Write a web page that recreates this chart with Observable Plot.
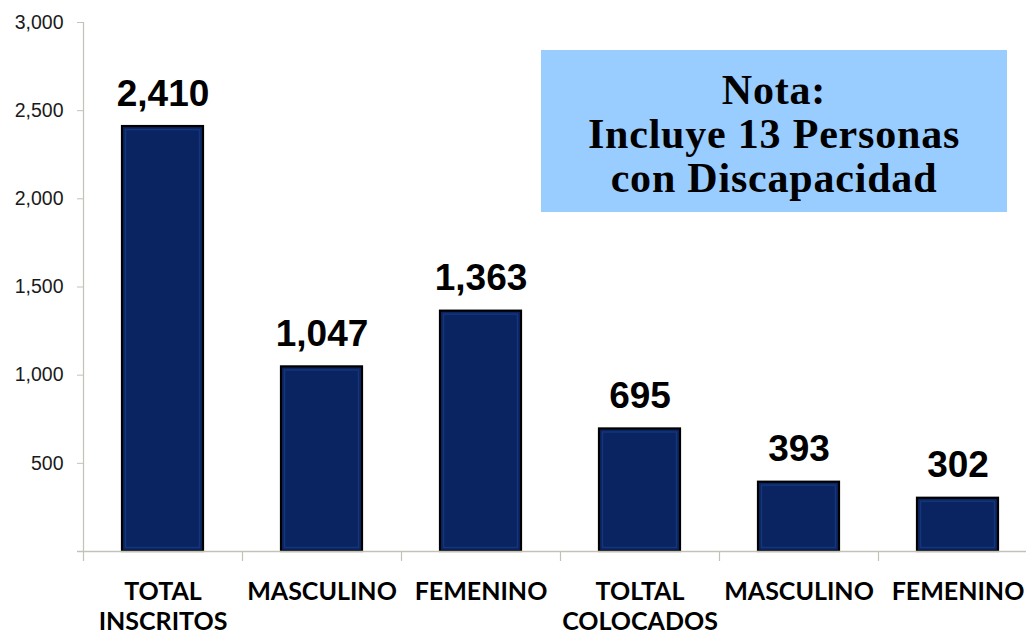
<!DOCTYPE html>
<html>
<head>
<meta charset="utf-8">
<script src="https://cdn.jsdelivr.net/npm/d3@7"></script>
<script src="https://cdn.jsdelivr.net/npm/@observablehq/plot@0.6"></script>
<style>
  html, body { margin: 0; padding: 0; background: #fff; }
  #wrap { position: relative; width: 1026px; height: 636px; overflow: hidden; }
  #note {
    position: absolute; left: 541px; top: 50px; width: 466px; height: 162px;
    background: #99ccff; box-sizing: border-box; padding-top: 18px;
    text-align: center; font-family: "Liberation Serif", serif; font-weight: bold;
    font-size: 42px; line-height: 44px; letter-spacing: 0.8px; color: #000;
  }
</style>
</head>
<body>
<div id="wrap"></div>
<script>
const categories = ["TOTAL\nINSCRITOS", "MASCULINO ", "FEMENINO ", "TOLTAL\nCOLOCADOS", "MASCULINO", "FEMENINO"];
const values = [2410, 1047, 1363, 695, 393, 302];
const yTicks = [0, 500, 1000, 1500, 2000, 2500, 3000];
const noteLines = ["Nota:", "Incluye 13 Personas", "con Discapacidad"];

const data = categories.map((c, i) => ({cat: c, value: values[i]}));

const W = 1026, H = 636;
const xRange = [83, 1037];
const step = (xRange[1] - xRange[0]) / categories.length;
const axisGray = "#c4c1b8";

const chart = Plot.plot({
  width: W,
  height: H,
  marginTop: 22,
  marginBottom: 85,
  marginLeft: 83,
  marginRight: 0,
  style: {background: "transparent", overflow: "visible"},
  x: {domain: categories, range: xRange, paddingInner: 0.49, paddingOuter: 0.245, label: null, axis: null},
  y: {domain: [0, 3000], label: null, axis: null},
  marks: [
    // y axis line (extends below baseline)
    Plot.ruleX([categories[0]], {x: d => d, dx: -step / 2, y1: 3000, y2: 0, insetBottom: -10, stroke: axisGray, strokeWidth: 1.2}),
    // category boundary ticks
    Plot.ruleX(categories.slice(1), {x: d => d, dx: -step / 2, y1: 0, y2: 0, insetBottom: -10, stroke: axisGray, strokeWidth: 1.2}),
    // y ticks (no labels here)
    Plot.axisY({ticks: yTicks, tickSize: 6, tickFormat: () => "", stroke: axisGray, label: null}),
    // y tick labels
    Plot.text(yTicks.filter(d => d !== 0), {
      y: d => d, text: d => d3.format(",")(d), frameAnchor: "left", textAnchor: "end", dx: -20,
      fontSize: 19.5, fontFamily: "Liberation Sans, Arial, sans-serif", fill: "#1a1a1a"
    }),
    // bars
    Plot.barY(data, {x: "cat", y: "value", fill: "#0a2462", stroke: "#000", strokeWidth: 2.2}),
    Plot.barY(data, {x: "cat", y: "value", fill: "none", stroke: "#183a80", strokeWidth: 1.5, inset: 3.5, strokeOpacity: 0.8}),
    // baseline
    Plot.ruleY([0], {stroke: axisGray, strokeWidth: 1.5, insetLeft: -6}),
    // value labels
    Plot.text(data, {
      x: "cat", y: "value", text: d => d3.format(",")(d.value),
      dy: -21, lineAnchor: "bottom", fontSize: 37, fontWeight: "bold",
      fontFamily: "Liberation Sans, Arial, sans-serif", fill: "#000"
    }),
    // x labels
    Plot.axisX({
      tickSize: 0, tickPadding: 27, fontSize: 25, fontWeight: "bold",
      fontFamily: "Lato, 'Open Sans', sans-serif", color: "#000", lineHeight: 1.2,
      tickFormat: d => d.trim(), label: null
    })
  ]
});

const wrap = document.getElementById("wrap");
wrap.appendChild(chart);
const note = document.createElement("div");
note.id = "note";
note.innerHTML = noteLines.map(s => `<div>${s}</div>`).join("");
wrap.appendChild(note);
</script>
</body>
</html>
